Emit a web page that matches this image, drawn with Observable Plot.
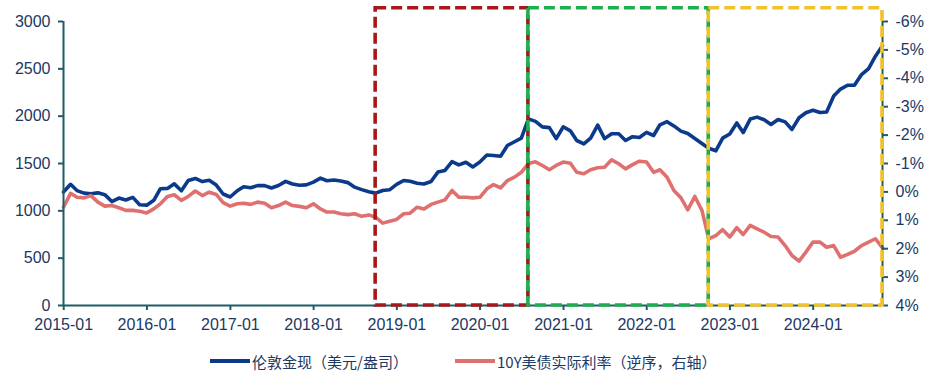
<!DOCTYPE html>
<html>
<head>
<meta charset="utf-8">
<script src="https://cdn.jsdelivr.net/npm/d3@7"></script>
<script src="https://cdn.jsdelivr.net/npm/@observablehq/plot@0.6"></script>
<style>
  body { margin: 0; background: #fff; }
  #chart { width: 934px; }
  #legend { position: relative; width: 934px; height: 38px; font-family: "Noto Sans CJK SC", "Noto Sans", sans-serif; font-size: 15px; color: #203864; }
  .item { position: absolute; top: 10px; height: 22px; display: flex; align-items: center; white-space: nowrap; }
  .sw { width: 40px; height: 4px; margin-right: 2px; }
</style>
</head>
<body>
<div id="chart"></div>
<div id="legend"></div>
<script>
// ---- data (month-end values, first month 2014-12) ----
const firstYear = 2014, firstMonth = 12;
const goldPrice = [
  1200,
  1280,1214,1187,1180,1190,1171,1098,1135,1114,1142,1065,1060,
  1111,1234,1237,1285,1212,1320,1342,1309,1322,1272,1178,1146,
  1212,1255,1244,1266,1266,1242,1267,1311,1283,1271,1274,1303,
  1345,1318,1325,1315,1298,1250,1224,1201,1187,1215,1222,1279,
  1321,1313,1292,1283,1310,1409,1427,1520,1485,1513,1464,1515,
  1589,1585,1577,1690,1730,1768,1971,1945,1887,1879,1763,1888,
  1845,1743,1708,1769,1906,1763,1815,1814,1743,1783,1774,1829,
  1796,1909,1942,1897,1842,1817,1765,1711,1661,1634,1768,1812,
  1928,1827,1969,1990,1962,1912,1965,1940,1860,1983,2036,2063,
  2039,2044,2214,2286,2327,2327,2440,2503,2634,2744
];
const realYield = [
  0.54,
  0.05,0.19,0.21,0.13,0.36,0.50,0.48,0.56,0.65,0.65,0.68,0.74,
  0.60,0.42,0.16,0.10,0.30,0.16,-0.03,0.13,0.01,0.09,0.38,0.50,
  0.42,0.40,0.44,0.36,0.40,0.56,0.48,0.36,0.48,0.51,0.56,0.42,
  0.60,0.71,0.71,0.77,0.80,0.77,0.86,0.81,0.89,1.10,1.03,0.97,
  0.77,0.75,0.54,0.60,0.44,0.36,0.28,-0.05,0.19,0.19,0.21,0.19,
  -0.11,-0.26,-0.14,-0.40,-0.52,-0.69,-1.00,-1.06,-0.93,-0.78,-0.93,-1.05,
  -1.01,-0.69,-0.64,-0.78,-0.85,-0.87,-1.13,-0.99,-0.81,-0.96,-1.08,-1.05,
  -0.69,-0.78,-0.52,-0.05,0.21,0.63,0.16,0.65,1.65,1.54,1.33,1.59,
  1.26,1.50,1.18,1.30,1.42,1.57,1.59,1.89,2.24,2.44,2.12,1.77,
  1.77,1.95,1.89,2.30,2.20,2.09,1.89,1.77,1.65,1.97
];
const leftTicks = [0, 500, 1000, 1500, 2000, 2500, 3000];
const rightTicks = [-6, -5, -4, -3, -2, -1, 0, 1, 2, 3, 4];
const xTickYears = [2015, 2016, 2017, 2018, 2019, 2020, 2021, 2022, 2023, 2024];
const periodStart = ["2018-09-30", "2020-07-31", "2022-09-30"];
const periodEnd   = ["2020-07-31", "2022-09-30", "2024-10-31"];
const periodColor = ["#A8171B", "#1EAE4E", "#F2C22E"];
const seriesNames = ["伦敦金现（美元/盎司）", "10Y美债实际利率（逆序，右轴）"];
const seriesColors = ["#0B3A8A", "#E07070"];

// ---- build ----
const monthEnd = i => new Date(Date.UTC(firstYear, firstMonth - 1 + i + 1, 0));
const goldData = goldPrice.map((v, i) => ({date: monthEnd(i), value: v}));
const yieldData = realYield.map((v, i) => ({date: monthEnd(i), value: v}));
const toLeft = r => (4 - r) * 300; // right axis (inverted, -6%..4%) onto left scale 3000..0
const periods = periodStart.map((s, i) => ({start: new Date(s), end: new Date(periodEnd[i]), color: periodColor[i]}));
const xTicks = xTickYears.map(y => new Date(Date.UTC(y, 0, 1)));
const axisColor = "#1F5C66", textColor = "#203864";
const first = goldData[0].date, last = goldData[goldData.length - 1].date;

const chart = Plot.plot({
  width: 934, height: 340,
  marginLeft: 63, marginRight: 52, marginTop: 21, marginBottom: 35,
  style: {fontFamily: "'Liberation Sans', Arial, sans-serif", fontSize: "16px", background: "white", overflow: "visible"},
  x: {type: "utc", domain: [first, last]},
  y: {domain: [0, 3000]},
  marks: [
    Plot.line(goldData, {x: "date", y: "value", stroke: seriesColors[0], strokeWidth: 3.6}),
    Plot.line(yieldData, {x: "date", y: d => toLeft(d.value), stroke: seriesColors[1], strokeWidth: 3.6}),
    Plot.ruleY([0], {stroke: axisColor, strokeWidth: 2}),
    Plot.ruleX([first], {y1: 0, y2: 3000, stroke: axisColor, strokeWidth: 2}),
    Plot.ruleX([last], {y1: 0, y2: 3000, stroke: axisColor, strokeWidth: 2}),
    Plot.axisY({ticks: leftTicks, tickSize: 5, tickPadding: 8, stroke: axisColor, strokeWidth: 2, fill: textColor, label: null, tickFormat: d => String(d)}),
    Plot.axisY({anchor: "right", ticks: rightTicks.map(toLeft), tickSize: 5, tickPadding: 8, stroke: axisColor, strokeWidth: 2, fill: textColor, label: null,
      tickFormat: v => `${Math.round(4 - v / 300)}%`}),
    Plot.axisX({ticks: xTicks, tickFormat: d3.utcFormat("%Y-%m"), tickSize: 5, tickPadding: 8, stroke: axisColor, strokeWidth: 2, fill: textColor, label: null}),
    ...periods.map(p => Plot.rect([p], {x1: "start", x2: "end", y1: 0, y2: 3140, fill: "none", stroke: p.color, strokeWidth: 3.6, strokeDasharray: "11,5"}))
  ]
});
document.getElementById("chart").appendChild(chart);

const legend = document.getElementById("legend");
const legendLeft = [210, 455];
seriesNames.forEach((name, i) => {
  const item = document.createElement("div");
  item.className = "item";
  item.style.left = legendLeft[i] + "px";
  item.innerHTML = `<div class="sw" style="background:${seriesColors[i]}"></div><span>${name}</span>`;
  legend.appendChild(item);
});
</script>
</body>
</html>
